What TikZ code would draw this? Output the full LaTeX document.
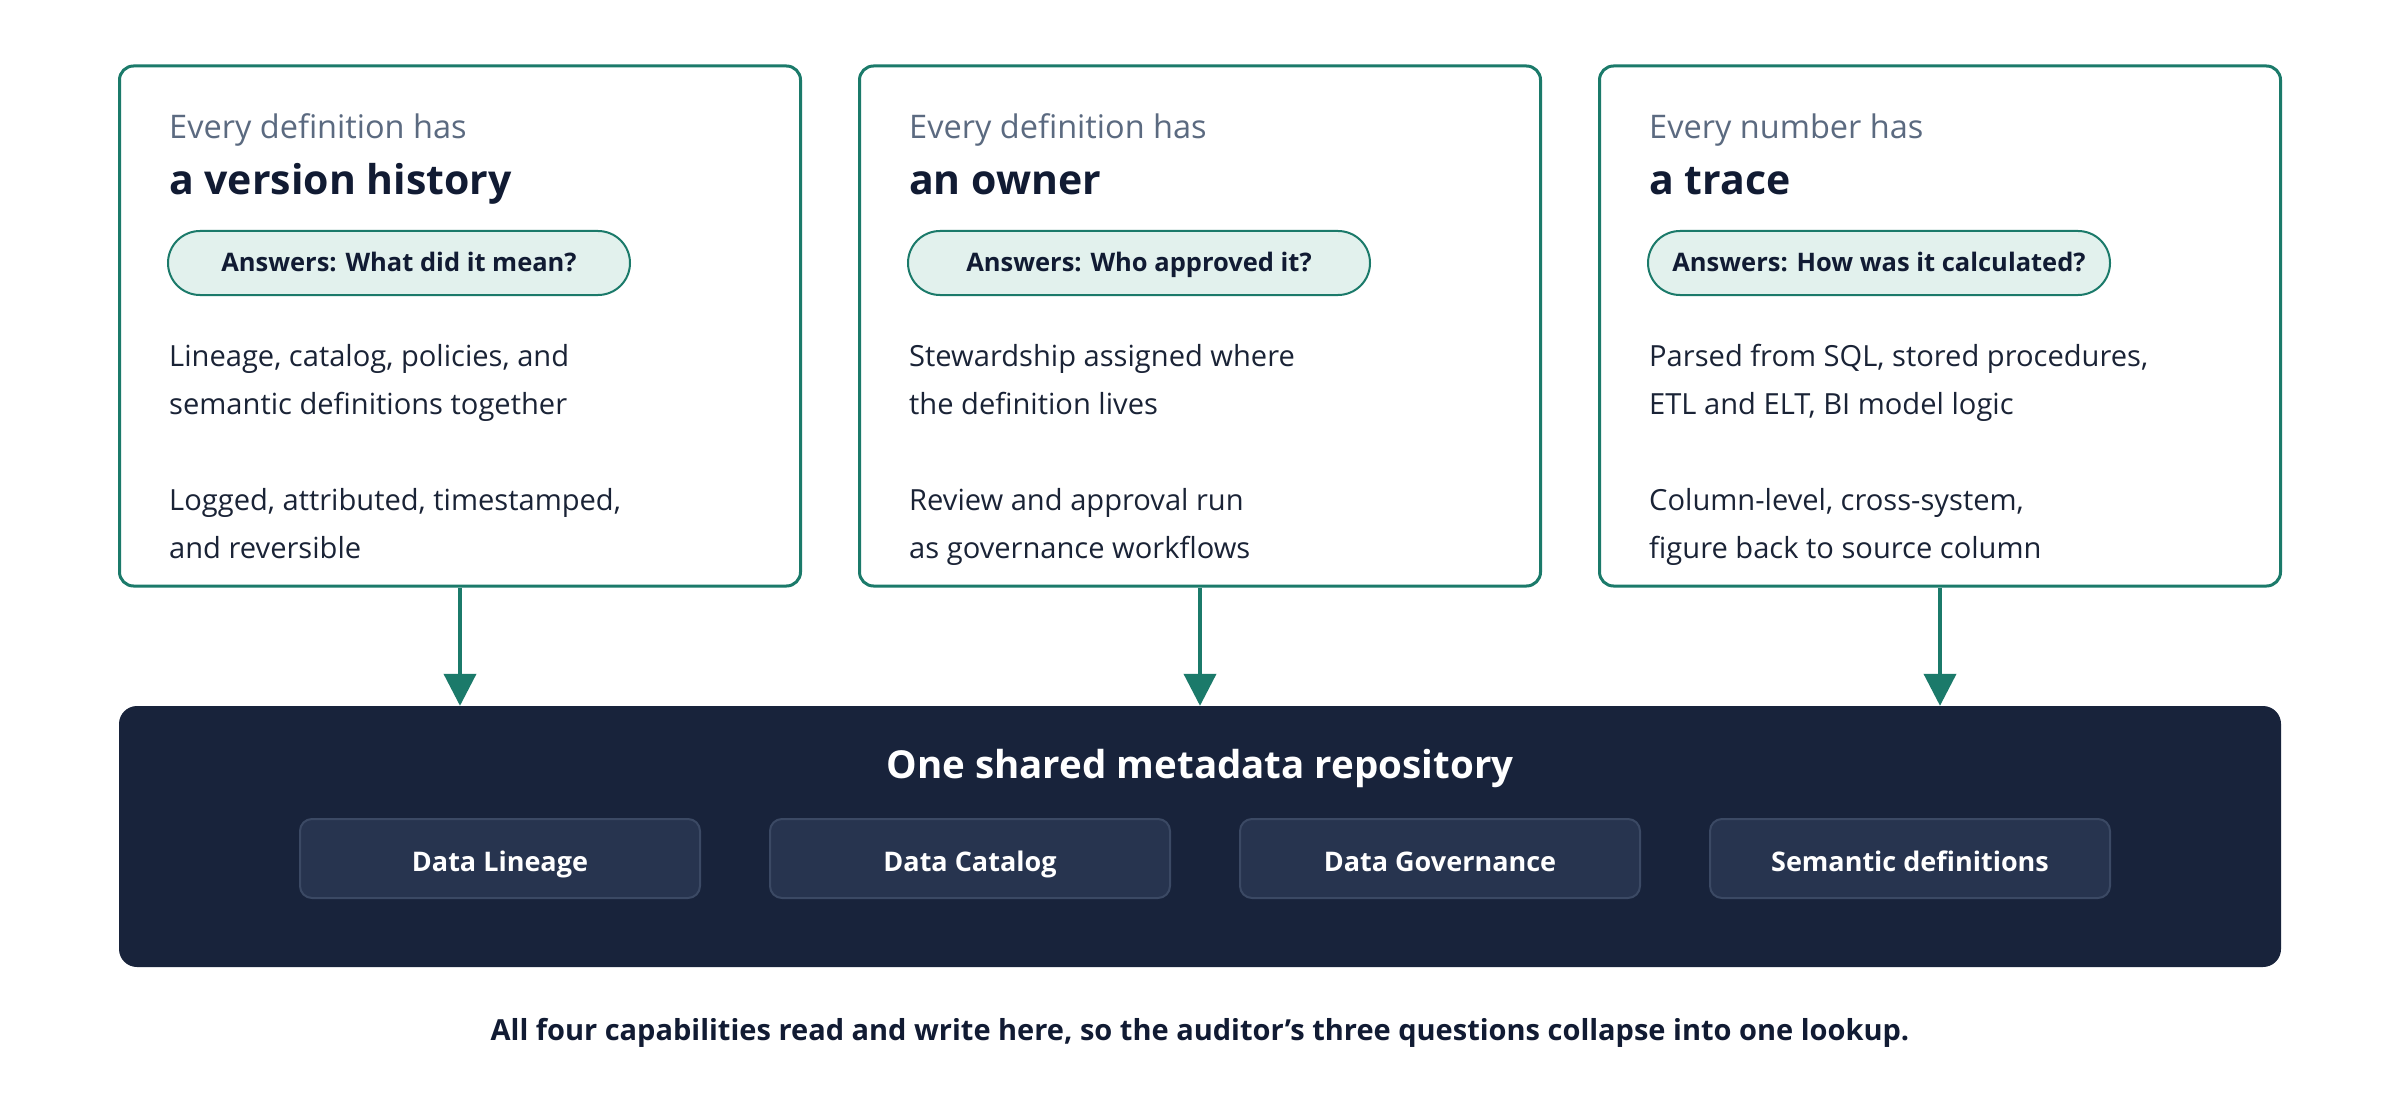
\documentclass[tikz,border=0pt]{standalone}
\usepackage{fontspec}
\setmainfont{Open Sans}
\usetikzlibrary{arrows.meta}
\definecolor{cteal}{HTML}{1B7A6A}
\definecolor{cpill}{HTML}{E2F1ED}
\definecolor{cnavy}{HTML}{18233B}
\definecolor{cinner}{HTML}{27344F}
\definecolor{cinnerline}{HTML}{3B4964}
\definecolor{csub}{HTML}{5B6A80}
\definecolor{chead}{HTML}{111B33}
\definecolor{cbody}{HTML}{1A2336}
\begin{document}
\begin{tikzpicture}[x=1pt,y=-1pt,
  card/.style={draw=cteal, line width=3pt, fill=white, rounded corners=14pt,
    minimum width=681pt, minimum height=520pt, inner sep=0pt},
  subt/.style={anchor=base west, inner sep=0pt, text=csub,
    font=\fontsize{32.5}{36}\selectfont},
  headt/.style={anchor=base west, inner sep=0pt, text=chead,
    font=\fontsize{41}{48}\selectfont\bfseries},
  pill/.style={draw=cteal, line width=2pt, fill=cpill, rounded corners=32pt,
    minimum width=462pt, minimum height=64pt, inner sep=0pt, text=chead,
    text height=18pt, text depth=0pt, font=\fontsize{25.5}{30}\selectfont\bfseries},
  bodyt/.style={anchor=base west, inner sep=0pt, text=cbody,
    font=\fontsize{29.1}{34}\selectfont},
  repo/.style={fill=cnavy, rounded corners=18pt, minimum width=2162pt,
    minimum height=261pt, inner sep=0pt},
  capbox/.style={draw=cinnerline, line width=2pt, fill=cinner, rounded corners=12pt,
    minimum width=400pt, minimum height=79pt, inner sep=0pt, text=white,
    text height=25pt, text depth=0pt, font=\fontsize{27}{32}\selectfont\bfseries},
  arr/.style={draw=cteal, line width=4pt, -{Triangle[length=32pt,width=32pt]}}
]
\useasboundingbox (0,0) rectangle (2400,1107);
\fill[white] (0,0) rectangle (2400,1107);

% cards
\node[card] (c1) at (460,326) {};
\node[card] (c2) at (1200,326) {};
\node[card] (c3) at (1940,326) {};

% card 1
\node[subt] (s1) at (169,139) {Every definition has};
\node[headt] (h1) at (169,195) {a version history};
\node[pill] (p1) at (399,263) {Answers: What did it mean?};
\node[bodyt] (b11) at (169,366) {Lineage, catalog, policies, and};
\node[bodyt] (b12) at (169,414) {semantic definitions together};
\node[bodyt] (b13) at (169,510) {Logged, attributed, timestamped,};
\node[bodyt] (b14) at (169,558) {and reversible};

% card 2
\node[subt] (s2) at (909,139) {Every definition has};
\node[headt] (h2) at (909,195) {an owner};
\node[pill] (p2) at (1139,263) {Answers: Who approved it?};
\node[bodyt] (b21) at (909,366) {Stewardship assigned where};
\node[bodyt] (b22) at (909,414) {the definition lives};
\node[bodyt] (b23) at (909,510) {Review and approval run};
\node[bodyt] (b24) at (909,558) {as governance workflows};

% card 3
\node[subt] (s3) at (1649,139) {Every number has};
\node[headt] (h3) at (1649,195) {a trace};
\node[pill] (p3) at (1879,263) {Answers: How was it calculated?};
\node[bodyt] (b31) at (1649,366) {Parsed from SQL, stored procedures,};
\node[bodyt] (b32) at (1649,414) {ETL and ELT, BI model logic};
\node[bodyt] (b33) at (1649,510) {Column-level, cross-system,};
\node[bodyt] (b34) at (1649,558) {figure back to source column};

% repository
\node[repo] (r) at (1200,836.5) {};
\node[anchor=base, inner sep=0pt, text=white, font=\fontsize{38.5}{44}\selectfont\bfseries]
  (rt) at (1200,778) {One shared metadata repository};
\node[capbox] (k1) at (500,858.5) {Data Lineage};
\node[capbox] (k2) at (970,858.5) {Data Catalog};
\node[capbox] (k3) at (1440,858.5) {Data Governance};
\node[capbox] (k4) at (1910,858.5) {Semantic definitions};

% arrows
\draw[arr] (c1.south) -- (c1.south |- r.north);
\draw[arr] (c2.south) -- (c2.south |- r.north);
\draw[arr] (c3.south) -- (c3.south |- r.north);

% caption
\node[anchor=base, inner sep=0pt, text=chead, font=\fontsize{29}{34}\selectfont\bfseries]
  (ft) at (1200,1040) {All four capabilities read and write here, so the auditor’s three questions collapse into one lookup.};
\end{tikzpicture}
\end{document}
